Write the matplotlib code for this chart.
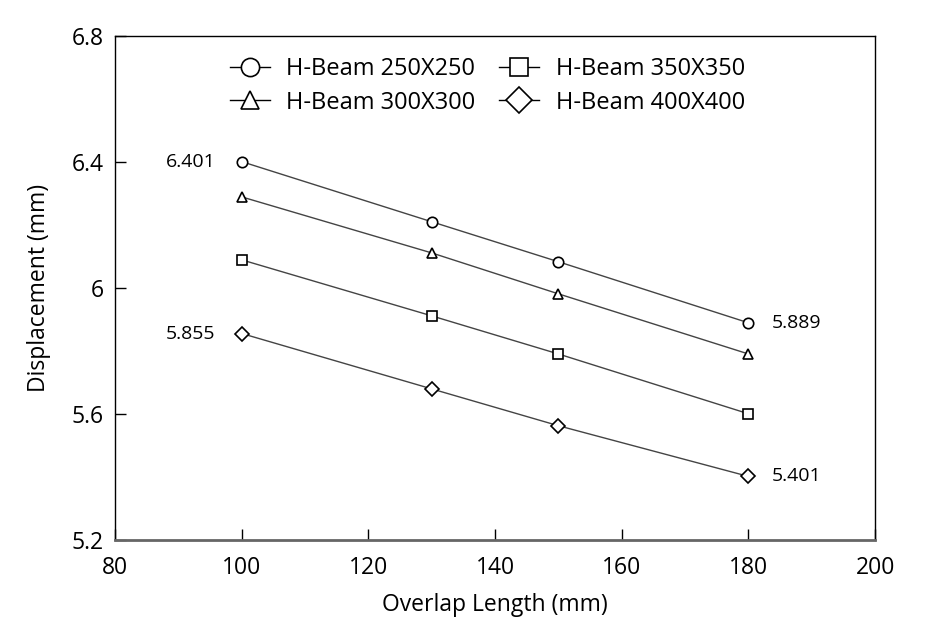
import matplotlib
matplotlib.use("Agg")
import matplotlib.pyplot as plt

plt.rcParams['font.family'] = ['Open Sans', 'DejaVu Sans']

overlap = [100, 130, 150, 180]
beam_250 = [6.401, 6.21, 6.083, 5.889]
beam_300 = [6.289, 6.111, 5.981, 5.79]
beam_350 = [6.089, 5.911, 5.79, 5.60]
beam_400 = [5.855, 5.679, 5.562, 5.401]
labels = ["H-Beam 250X250", "H-Beam 300X300", "H-Beam 350X350", "H-Beam 400X400"]
markers = ["o", "^", "s", "D"]
xticks = [80, 100, 120, 140, 160, 180, 200]
yticks = [5.2, 5.6, 6.0, 6.4, 6.8]
ytick_labels = ["5.2", "5.6", "6", "6.4", "6.8"]

fig = plt.figure(figsize=(9.28, 6.44), dpi=100)
ax = fig.add_axes([0.124, 0.162, 0.819, 0.782])

series = [beam_250, beam_300, beam_350, beam_400]
msizes = [7.5, 7, 7, 7.5]
for vals, lab, m, ms in zip(series, labels, markers, msizes):
    ax.plot(overlap, vals, color="#444444", lw=1.0, marker=m, ms=ms,
            mfc="white", mec="black", mew=1.2, label=lab)

ax.set_xlim(80, 200)
ax.set_ylim(5.2, 6.8)
ax.set_xticks(xticks)
ax.set_yticks(yticks)
ax.set_yticklabels(ytick_labels)
ax.tick_params(direction="in", length=8, width=1, labelsize=16.5, colors="black")
ax.tick_params(axis="x", pad=12)
ax.tick_params(axis="y", pad=8)
for s in ["left", "top", "right"]:
    ax.spines[s].set_linewidth(1.0)
ax.spines["bottom"].set_linewidth(2.0)
ax.spines["bottom"].set_color("#666666")

ax.set_xlabel("Overlap Length (mm)", fontsize=16.5, labelpad=9)
ax.set_ylabel("Displacement (mm)", fontsize=16.5, labelpad=15)

ax.annotate(f"{beam_250[0]:.3f}", (overlap[0], beam_250[0]), xytext=(-19, 0),
            textcoords="offset points", ha="right", va="center", fontsize=14)
ax.annotate(f"{beam_400[0]:.3f}", (overlap[0], beam_400[0]), xytext=(-19, 0),
            textcoords="offset points", ha="right", va="center", fontsize=14)
ax.annotate(f"{beam_250[-1]:.3f}", (overlap[-1], beam_250[-1]), xytext=(17, 0),
            textcoords="offset points", ha="left", va="center", fontsize=14)
ax.annotate(f"{beam_400[-1]:.3f}", (overlap[-1], beam_400[-1]), xytext=(17, 0),
            textcoords="offset points", ha="left", va="center", fontsize=14)

leg = ax.legend(ncol=2, loc="upper center", bbox_to_anchor=(0.49, 1.0), frameon=False,
                fontsize=17, markerscale=1.75, handlelength=1.7, columnspacing=1.0,
                labelspacing=0.4, handletextpad=0.7)
for h in leg.legend_handles:
    h.set_color("black")
    h.set_markeredgecolor("black")
    h.set_markerfacecolor("white")

fig.savefig("out.png", dpi=100)
